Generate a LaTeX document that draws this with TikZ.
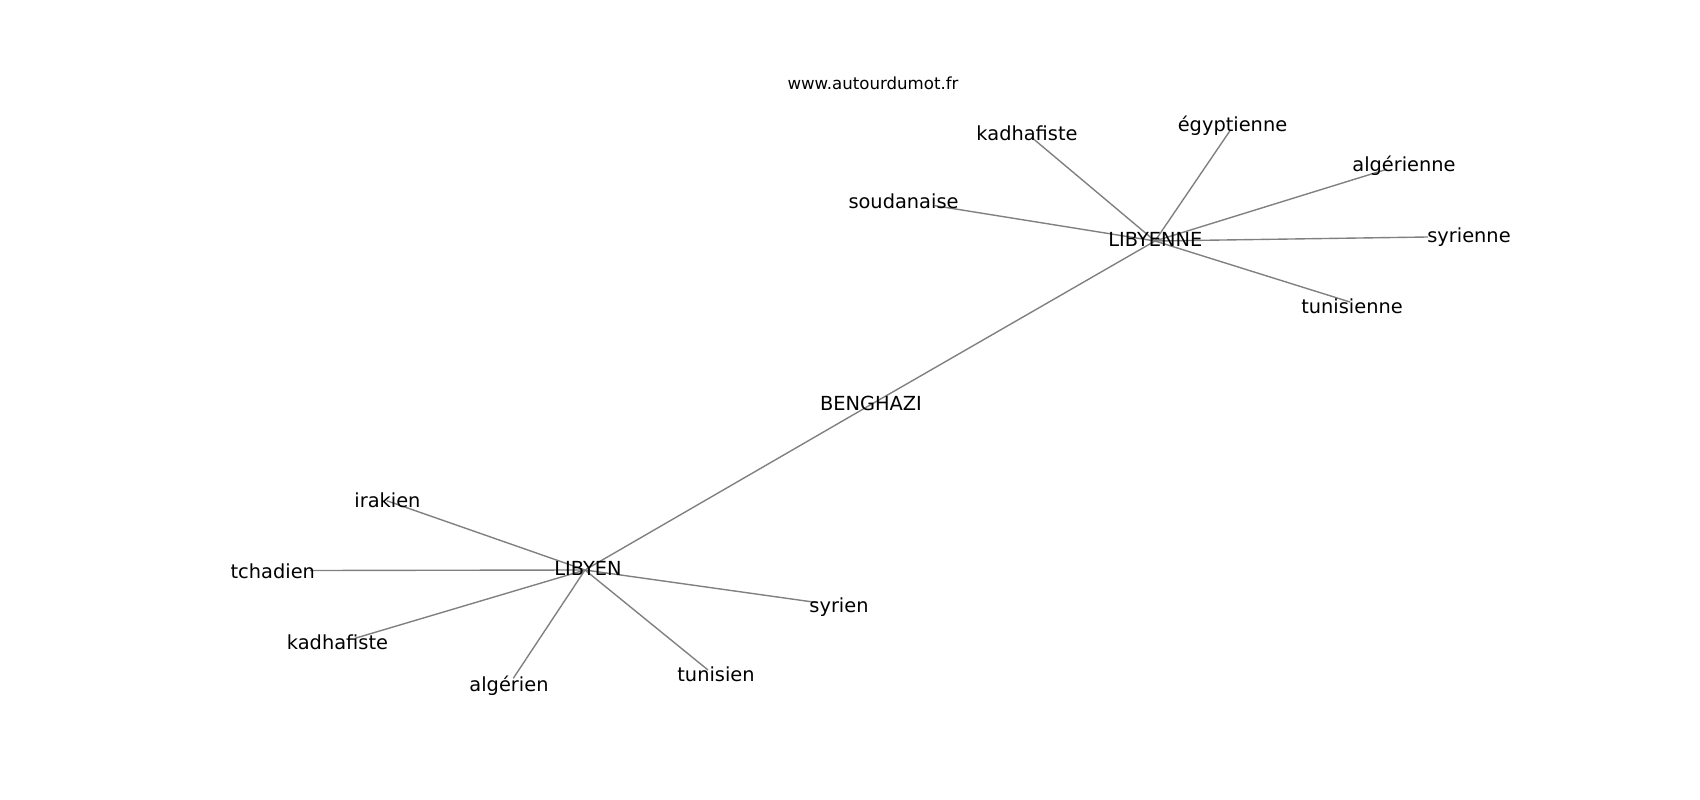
\documentclass[tikz,border=0pt]{standalone}
\usepackage{fontspec}
\setmainfont{DejaVu Sans}
\begin{document}
\begin{tikzpicture}[x=0.01in,y=-0.01in,
  lbl/.style={font=\fontsize{14pt}{16pt}\selectfont, anchor=base, inner sep=0pt, text=black, yshift=-1.1*0.72pt},
  wm/.style={font=\fontsize{12pt}{14pt}\selectfont, anchor=base, inner sep=0pt, text=black},
  edge/.style={draw=gray, line width=1pt}]
\useasboundingbox[fill=white] (0,0) rectangle (1700,800);
% graph vertices
\coordinate (vLIBYENNE) at (1155,241);
\coordinate (vLIBYEN) at (585,570);
\coordinate (vBENGHAZI) at (871,404.5);
\coordinate (vkadhaF) at (1032.7,138.3);
\coordinate (vsoud) at (935,205.7);
\coordinate (vegypt) at (1230,130.7);
\coordinate (valgF) at (1386.7,169.3);
\coordinate (vsyrF) at (1428,237);
\coordinate (vtunF) at (1350,302);
\coordinate (virak) at (386.7,500.7);
\coordinate (vtchad) at (310,570.5);
\coordinate (vkadhaM) at (355,638.3);
\coordinate (valgM) at (513.3,678.3);
\coordinate (vtunM) at (708,670);
\coordinate (vsyrM) at (818,602.7);
% edges
\draw[edge] (vLIBYENNE) -- (vBENGHAZI);
\draw[edge] (vBENGHAZI) -- (vLIBYEN);
\foreach \v in {vkadhaF,vsoud,vegypt,valgF,vsyrF,vtunF}
  \draw[edge] (vLIBYENNE) -- (\v);
\foreach \v in {virak,vtchad,vkadhaM,valgM,vtunM,vsyrM}
  \draw[edge] (vLIBYEN) -- (\v);
% labels
\node[wm] (watermark) at (873,89.5) {www.autourdumot.fr};
\node[lbl] (tLIBYENNE) at (1155.3,245) {LIBYENNE};
\node[lbl] (tLIBYEN) at (588,574) {LIBYEN};
\node[lbl] (tBENGHAZI) at (871,409) {BENGHAZI};
\node[lbl] (tkadhaF) at (1027,139) {kadhafiste};
\node[lbl] (tsoud) at (903.5,207.7) {soudanaise};
\node[lbl] (tegypt) at (1232.5,130) {égyptienne};
\node[lbl] (talgF) at (1404,170) {algérienne};
\node[lbl] (tsyrF) at (1469,241.7) {syrienne};
\node[lbl] (ttunF) at (1352,312.7) {tunisienne};
\node[lbl] (tirak) at (387.5,506.7) {irakien};
\node[lbl] (ttchad) at (272.8,577.3) {tchadien};
\node[lbl] (tkadhaM) at (337.5,648.3) {kadhafiste};
\node[lbl] (talgM) at (509,690) {algérien};
\node[lbl] (ttunM) at (716,680) {tunisien};
\node[lbl] (tsyrM) at (839,611.7) {syrien};
\end{tikzpicture}
\end{document}
